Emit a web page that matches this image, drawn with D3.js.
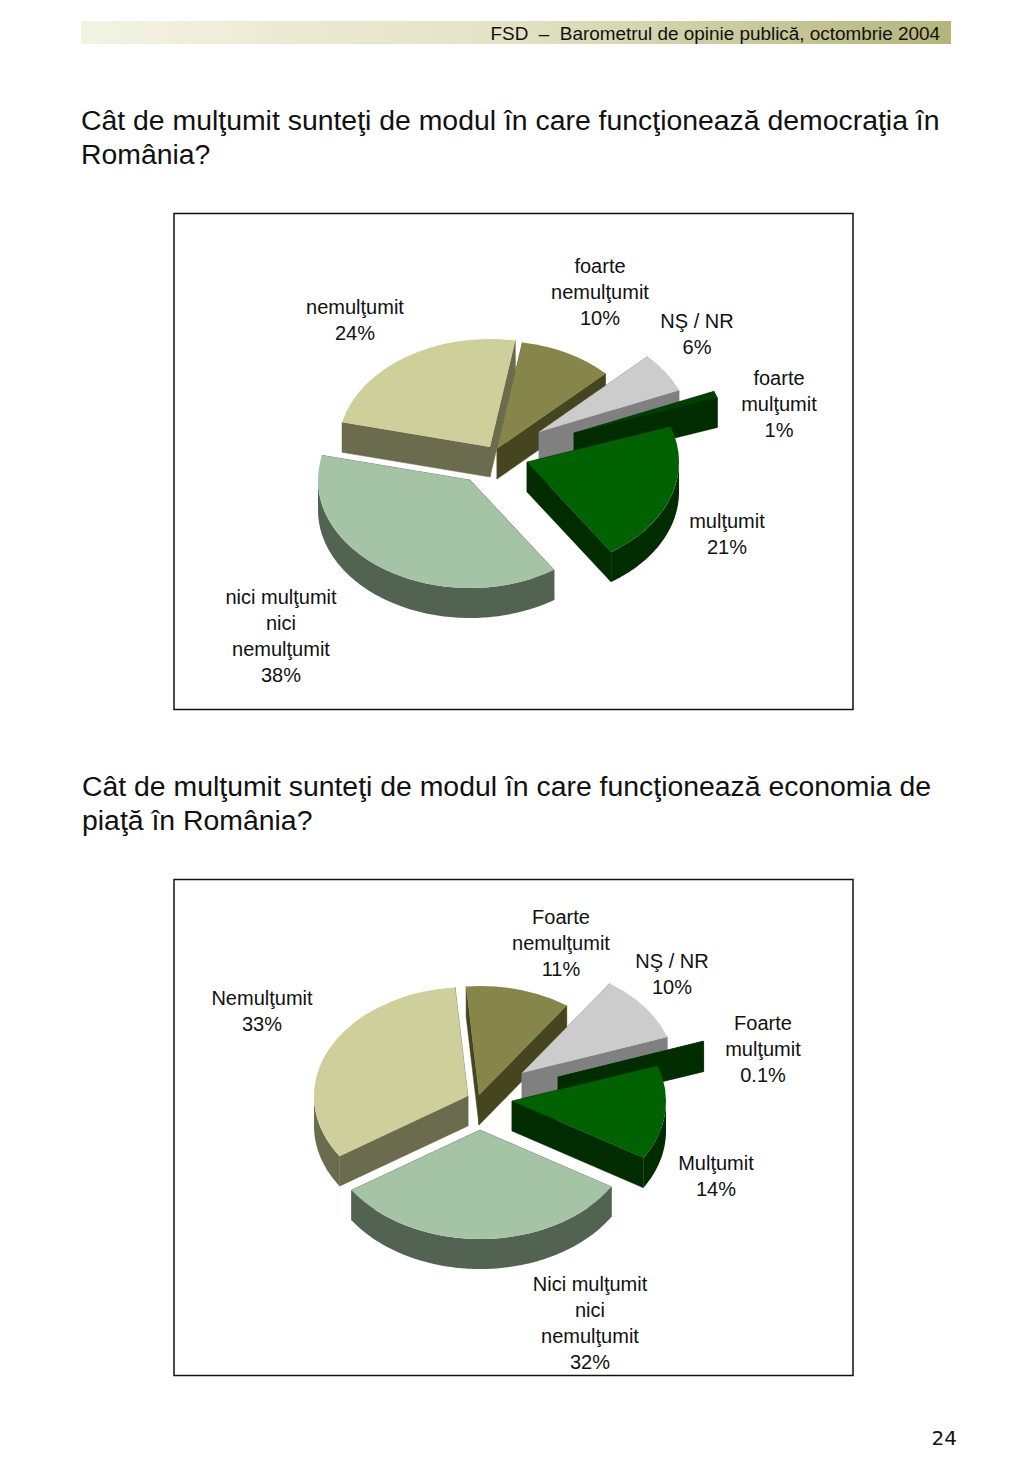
<!doctype html>
<html>
<head>
<meta charset="utf-8"/>
<script src="https://d3js.org/d3.v7.min.js"></script>
<style>
body{margin:0;background:#fff}
svg{display:block}
text{font-family:"Liberation Sans",sans-serif;fill:#111}
</style>
</head>
<body>
<script>
// values, clockwise from the first slice
var categories1=["foarte|nemulţumit","NŞ / NR","foarte|mulţumit","mulţumit","nici mulţumit|nici|nemulţumit","nemulţumit"];
var values1=[10,6,1,21,38,24];
var percent1=["10%","6%","1%","21%","38%","24%"];

var categories2=["Foarte|nemulţumit","NŞ / NR","Foarte|mulţumit","Mulţumit","Nici mulţumit|nici|nemulţumit","Nemulţumit"];
var values2=[11,10,0.1,14,32,33];
var percent2=["11%","10%","0.1%","14%","32%","33%"];

var topColors=["#86864a","#cccccc","#003f00","#006100","#a5c3a5","#cfcf9b"];
var wallColors=["#45451f","#808080","#002c00","#002c00","#526352","#6b6b4d"];

// layout
var width=1024,height=1479;
var depth=30;
var drawOrder=[5,0,1,2,4,3];
// explode = how far each slice is pulled out of the pie, in px
var chart1={center:[494,451],rx:152,ry:108,start:9.6,
	explode:[[3,-2],[45,-19],[80,-18],[33,11],[-24,29],[-4,-4]],
	labels:[[600,273],[697,328],[779,385],[727,528],[281,604],[355,314]]};
var chart2={center:[477,1100],rx:154,ry:109,start:-4.8,
	explode:[[2,-5],[45,-27],[81,-23],[35,1],[3,30],[-9,-4]],
	labels:[[561,924],[672,968],[763,1030],[716,1170],[590,1291],[262,1005]]};

var svg=d3.select("body").append("svg").attr("width",width).attr("height",height);

var grad=svg.append("defs").append("linearGradient").attr("id","bar");
grad.append("stop").attr("offset","0%").attr("stop-color","#f3f3e3");
grad.append("stop").attr("offset","50%").attr("stop-color","#e2e2c4");
grad.append("stop").attr("offset","100%").attr("stop-color","#b4b47a");

svg.append("rect").attr("x",81).attr("y",21).attr("width",870).attr("height",23).attr("fill","url(#bar)");
svg.append("text").attr("x",940).attr("y",40).attr("text-anchor","end").style("font-size","18.9px")
	.attr("xml:space","preserve").text("FSD  –  Barometrul de opinie publică, octombrie 2004");

function title(x,y,s){
	svg.append("text").attr("x",x).attr("y",y).style("font-size","28.4px").text(s);
}
title(81,130,"Cât de mulţumit sunteţi de modul în care funcţionează democraţia în");
title(81,164,"România?");
title(82,796,"Cât de mulţumit sunteţi de modul în care funcţionează economia de");
title(82,830,"piaţă în România?");

svg.append("text").attr("x",957).attr("y",1445).attr("text-anchor","end")
	.style("font-family","'DejaVu Sans'").style("font-size","20px").text("24");

function drawPie(chart,cats,vals,pct,frameY){
	svg.append("rect").attr("x",174).attr("y",frameY).attr("width",679).attr("height",496)
		.attr("fill","#fff").attr("stroke","#111").attr("stroke-width",1.5);

	var rx=chart.rx,ry=chart.ry;
	var s=chart.start*Math.PI/180;
	var arcs=d3.pie().sort(null).startAngle(s).endAngle(s+2*Math.PI)(vals);
	var top=d3.arc().innerRadius(0).outerRadius(rx);
	var line=d3.line();

	drawOrder.forEach(function(i){
		var a=arcs[i];
		var tx=chart.center[0]+chart.explode[i][0];
		var ty=chart.center[1]+chart.explode[i][1];
		function pt(t,d){return [tx+rx*Math.sin(t),ty-ry*Math.cos(t)+d];}
		var g=svg.append("g");

		// the two radial faces
		[a.startAngle,a.endAngle].forEach(function(t){
			g.append("path").attr("fill",wallColors[i]).attr("stroke",wallColors[i]).attr("stroke-width",0.5)
				.attr("d",line([[tx,ty],pt(t,0),pt(t,depth),[tx,ty+depth]])+"Z");
		});

		// rim, only the part turned to the viewer
		[0,2*Math.PI].forEach(function(turn){
			var lo=Math.max(a.startAngle,Math.PI/2+turn),hi=Math.min(a.endAngle,3*Math.PI/2+turn);
			if(hi<=lo) return;
			var ts=d3.range(lo,hi,0.02).concat([hi]);
			var upper=ts.map(function(t){return pt(t,0);});
			var lower=ts.slice().reverse().map(function(t){return pt(t,depth);});
			g.append("path").attr("fill",wallColors[i]).attr("d",line(upper.concat(lower))+"Z");
		});

		g.append("path").attr("fill",topColors[i])
			.attr("transform","translate("+tx+","+ty+") scale(1,"+(ry/rx)+")")
			.attr("d",top(a));
	});

	cats.forEach(function(c,i){
		var lines=c.split("|").concat([pct[i]]);
		var t=svg.append("text").attr("text-anchor","middle").style("font-size","20px");
		lines.forEach(function(l,k){
			t.append("tspan").attr("x",chart.labels[i][0]).attr("y",chart.labels[i][1]+k*26).text(l);
		});
	});
}

drawPie(chart1,categories1,values1,percent1,213.5);
drawPie(chart2,categories2,values2,percent2,879.5);
</script>
</body>
</html>
